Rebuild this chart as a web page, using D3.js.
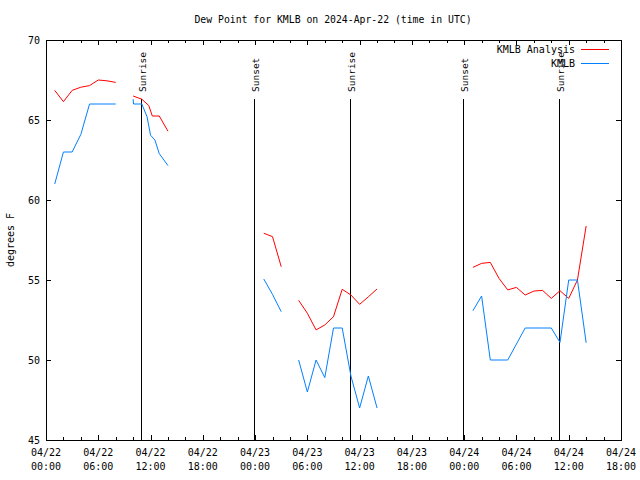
<!DOCTYPE html>
<html><head><meta charset="utf-8">
<script src="https://cdn.jsdelivr.net/npm/d3@7/dist/d3.min.js"></script>
<style>body{margin:0;background:#fff}svg{display:block}</style>
</head><body>
<svg id="c" width="640" height="480"></svg>
<script>
// ---- data (hours after 2024-04-22 00:00 UTC; null = gap) ----
const startTime = "2024-04-22T00:00:00Z";
const endTime = "2024-04-24T18:00:00Z";
const analysisHours = [1,2,3,4,5,6,7,8,9,10,11,11.8,12.2,13,14,15,25,26,27,28,29,30,31,32,33,34,35,36,37,38,39,49,50,51,52,53,54,55,56,57,58,59,60,61,62];
const analysisDew  = [66.85,66.15,66.85,67.05,67.15,67.5,67.45,67.35,null,66.5,66.3,65.9,65.25,65.25,64.3,null,57.92,57.71,55.83,null,53.73,52.92,51.88,52.19,52.71,54.42,54.06,53.48,53.95,54.44,null,55.79,56.04,56.1,55.1,54.38,54.54,54.06,54.31,54.35,53.85,54.33,53.85,55.0,58.38];
const obsHours = [1,2,3,4,5,6,7,8,9,10,10.05,11,11.6,12,12.5,13,14,15,25,26,27,28,29,30,31,32,33,34,35,36,37,38,39,49,50,51,52,53,54,55,56,57,58,59,60,61,62];
const obsDew   = [61,63,63,64.1,66,66,66,66,null,66.3,66,66,65.2,64.05,63.75,62.9,62.15,null,55.06,54.1,53.02,null,50,48,50,48.9,52,52,49,47,49,47,null,53.08,54,50,50,50,51,52,52,52,52,51.1,55,55,51.08];
const sunLabels = ["Sunrise","Sunset","Sunrise","Sunset","Sunrise"];
const sunHours  = [10.88,23.82,34.87,47.83,58.85];
const yTickValues = [45,50,55,60,65,70];
const seriesNames = ["KMLB Analysis","KMLB"];
const seriesColors = ["#ff0000","#0080ff"];
const titleText = "Dew Point for KMLB on 2024-Apr-22 (time in UTC)";
const yLabelText = "degrees F";

// ---- chart ----
const svg = d3.select("#c");
const FONT = "'DejaVu Sans Mono', 'Liberation Mono', monospace";
const L = 46, R = 621, T = 40, B = 440;
const t0 = Date.parse(startTime);
const toDate = h => new Date(t0 + h * 3600e3);
const x = d3.scaleUtc().domain([new Date(startTime), new Date(endTime)]).range([L, R]);
const y = d3.scaleLinear().domain([45, 70]).range([B, T]);

svg.append("rect").attr("width", 640).attr("height", 480).attr("fill", "#fff");

// ticks
const g = svg.append("g").attr("shape-rendering", "crispEdges").attr("stroke", "#000");
const major = d3.utcHour.every(6).range(x.domain()[0], new Date(+x.domain()[1] + 1));
const minor = d3.utcHour.every(2).range(x.domain()[0], new Date(+x.domain()[1] + 1))
  .filter(d => d.getUTCHours() % 6 !== 0);
major.forEach(d => {
  const px = Math.round(x(d)) + 0.5;
  g.append("line").attr("x1", px).attr("x2", px).attr("y1", B).attr("y2", B - 5);
  g.append("line").attr("x1", px).attr("x2", px).attr("y1", T).attr("y2", T + 5);
});
minor.forEach(d => {
  const px = Math.round(x(d)) + 0.5;
  g.append("line").attr("x1", px).attr("x2", px).attr("y1", B).attr("y2", B - 3);
  g.append("line").attr("x1", px).attr("x2", px).attr("y1", T).attr("y2", T + 3);
});
yTickValues.forEach(v => {
  const py = Math.round(y(v)) + 0.5;
  g.append("line").attr("x1", L).attr("x2", L + 5).attr("y1", py).attr("y2", py);
  g.append("line").attr("x1", R).attr("x2", R - 5).attr("y1", py).attr("y2", py);
});

// tick labels
const fmtD = d3.utcFormat("%m/%d"), fmtT = d3.utcFormat("%H:%M");
major.forEach(d => {
  const tx = svg.append("text").attr("font-family", FONT).attr("font-size", 10)
    .attr("text-anchor", "middle").attr("fill", "#000");
  tx.append("tspan").attr("x", x(d)).attr("y", 456).text(fmtD(d));
  tx.append("tspan").attr("x", x(d)).attr("y", 470).text(fmtT(d));
});
yTickValues.forEach(v => {
  svg.append("text").attr("font-family", FONT).attr("font-size", 10)
    .attr("text-anchor", "end").attr("x", 40).attr("y", y(v) + 4).text(v);
});

// title and y label
svg.append("text").attr("font-family", FONT).attr("font-size", 9.8)
  .attr("text-anchor", "middle").attr("x", 333).attr("y", 23).text(titleText);
svg.append("text").attr("font-family", FONT).attr("font-size", 10)
  .attr("text-anchor", "middle").attr("transform", "translate(14,240) rotate(-90)").text(yLabelText);

// sunrise / sunset markers
sunHours.forEach((h, i) => {
  const px = Math.round(x(toDate(h))) + 0.5;
  svg.append("line").attr("x1", px).attr("x2", px).attr("y1", 99).attr("y2", B)
    .attr("stroke", "#000").attr("stroke-width", 1).attr("shape-rendering", "crispEdges");
  svg.append("text").attr("font-family", FONT).attr("font-size", 9.5)
    .attr("text-anchor", "start").attr("transform", `translate(${px + 4},92) rotate(-90)`)
    .text(sunLabels[i]);
});

// series lines
const line = d3.line().defined(d => d[1] != null).x(d => x(toDate(d[0]))).y(d => y(d[1]));
const series = [d3.zip(analysisHours, analysisDew), d3.zip(obsHours, obsDew)];
series.forEach((s, i) => {
  svg.append("path").datum(s).attr("d", line).attr("fill", "none")
    .attr("stroke", seriesColors[i]).attr("stroke-width", 1);
});

// legend
seriesNames.forEach((n, i) => {
  const ly = 49 + i * 14;
  svg.append("text").attr("font-family", FONT).attr("font-size", 10)
    .attr("text-anchor", "end").attr("x", 575).attr("y", ly + 4).text(n);
  svg.append("line").attr("x1", 581).attr("x2", 609).attr("y1", ly + 0.5).attr("y2", ly + 0.5)
    .attr("stroke", seriesColors[i]).attr("stroke-width", 1);
});

// border
svg.append("rect").attr("x", L + 0.5).attr("y", T + 0.5).attr("width", R - L).attr("height", B - T)
  .attr("fill", "none").attr("stroke", "#000").attr("shape-rendering", "crispEdges");
</script>
</body></html>
